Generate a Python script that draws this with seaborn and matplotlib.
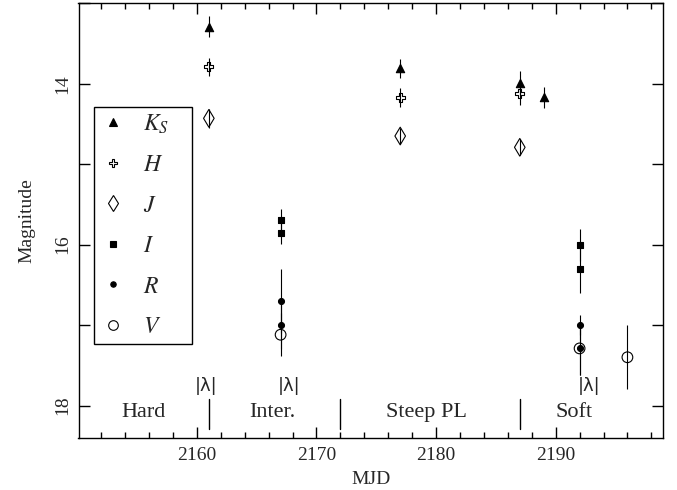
import matplotlib
matplotlib.use("Agg")
import matplotlib.pyplot as plt
from matplotlib.lines import Line2D
from matplotlib.ticker import MultipleLocator
import seaborn as sns
import pandas as pd

# ---- data ----
ks_mjd = [2161, 2177, 2187, 2189]
ks_mag = [13.29, 13.81, 13.99, 14.17]
ks_err = [0.13, 0.12, 0.15, 0.13]

h_mjd = [2161, 2177, 2187]
h_mag = [13.79, 14.17, 14.12]
h_err = [0.11, 0.12, 0.15]

j_mjd = [2161, 2177, 2187]
j_mag = [14.43, 14.65, 14.79]
j_err = [0.12, 0.10, 0.10]

i_mjd = [2167, 2167, 2192, 2192]
i_mag = [15.69, 15.86, 16.00, 16.30]
i_err = [0.13, 0.13, 0.20, 0.30]

r_mjd = [2167, 2167, 2192, 2192]
r_mag = [16.70, 17.00, 17.00, 17.29]
r_err = [0.40, 0.30, 0.12, 0.33]

v_mjd = [2167, 2192, 2196]
v_mag = [17.12, 17.29, 17.40]
v_err = [0.27, 0.33, 0.40]

state_names = ["Hard", "Inter.", "Steep PL", "Soft"]
state_x = [2155.5, 2166.3, 2179.2, 2191.55]
state_sep = [2161, 2172, 2187]
lambda_x = [2160.8, 2167.7, 2192.8]

band_labels = [r"$K_S$", r"$H$", r"$J$", r"$I$", r"$R$", r"$V$"]

# ---- styling ----
sns.set_theme(style="ticks")
plt.rcParams["font.family"] = "serif"
plt.rcParams["font.serif"] = ["Liberation Serif", "Times New Roman", "DejaVu Serif"]
plt.rcParams["mathtext.fontset"] = "stix"

fig = plt.figure(figsize=(6.77, 4.90), dpi=100)
ax = fig.add_axes([78.5 / 677, 52.3 / 490, (663.3 - 78.5) / 677, (486.7 - 52.3) / 490])

bands = [
    ("Ks", ks_mjd, ks_mag, ks_err, "^", 6.0, "black"),
    ("H", h_mjd, h_mag, h_err, "P", 6.5, "none"),
    ("J", j_mjd, j_mag, j_err, "d", 9.0, "none"),
    ("I", i_mjd, i_mag, i_err, "s", 5.0, "black"),
    ("R", r_mjd, r_mag, r_err, "o", 4.3, "black"),
    ("V", v_mjd, v_mag, v_err, "o", 7.7, "none"),
]

handles = []
for (name, xs, ys, es, mk, ms, fc), lab in zip(bands, band_labels):
    df = pd.DataFrame({"MJD": xs, "mag": ys, "err": es})
    ax.errorbar(df["MJD"], df["mag"], yerr=df["err"], fmt="none",
                ecolor="black", elinewidth=0.8, capsize=0, zorder=2)
    sns.scatterplot(data=df, x="MJD", y="mag", ax=ax, marker=mk,
                    s=ms ** 2, facecolor=fc, edgecolor="black",
                    linewidth=0.8, zorder=3, legend=False)
    handles.append(Line2D([], [], linestyle="none", marker=mk,
                          markersize=ms * 0.9, markerfacecolor=fc,
                          markeredgecolor="black", markeredgewidth=0.8,
                          label=lab))

# state labels and separators
for name, x in zip(state_names, state_x):
    ax.text(x, 18.09, name, ha="center", va="center", fontsize=16)
for x in state_sep:
    ax.plot([x, x], [17.92, 18.29], color="black", lw=1.0)
for x in lambda_x:
    ax.text(x, 17.76, "|λ|", ha="center", va="center", fontsize=13,
            family=["DejaVu Sans"])

ax.set_xlim(2150.1, 2199)
ax.set_ylim(18.4, 13.0)
ax.xaxis.set_major_locator(MultipleLocator(10))
ax.xaxis.set_minor_locator(MultipleLocator(2))
ax.yaxis.set_major_locator(MultipleLocator(2))
ax.yaxis.set_minor_locator(MultipleLocator(1))
ax.tick_params(which="both", direction="in", top=True, right=True,
               color="black", width=1.0)
ax.tick_params(which="major", length=8, labelsize=14)
ax.tick_params(axis="x", which="minor", length=4)
ax.tick_params(axis="y", which="minor", length=8)
ax.tick_params(axis="x", which="major", pad=7)
ax.tick_params(axis="y", which="major", pad=5)
for lbl in ax.get_yticklabels():
    lbl.set_rotation(90)
    lbl.set_va("center")
for sp in ax.spines.values():
    sp.set_linewidth(1.0)
    sp.set_color("black")

ax.set_xlabel("MJD", fontsize=14, labelpad=5)
ax.set_ylabel("Magnitude", fontsize=14, labelpad=14)

leg = ax.legend(handles=handles, loc="upper left",
                bbox_to_anchor=(94 / 677, (490 - 341.7) / 490, 98 / 677, (341.7 - 106.7) / 490),
                bbox_transform=fig.transFigure, mode="expand",
                fontsize=17, frameon=True, fancybox=False, framealpha=1,
                edgecolor="black", handlelength=1.15, handletextpad=0.68,
                labelspacing=0.8, borderpad=0.25, borderaxespad=0)
leg.get_frame().set_linewidth(1.0)

fig.savefig("out.png", dpi=100)
